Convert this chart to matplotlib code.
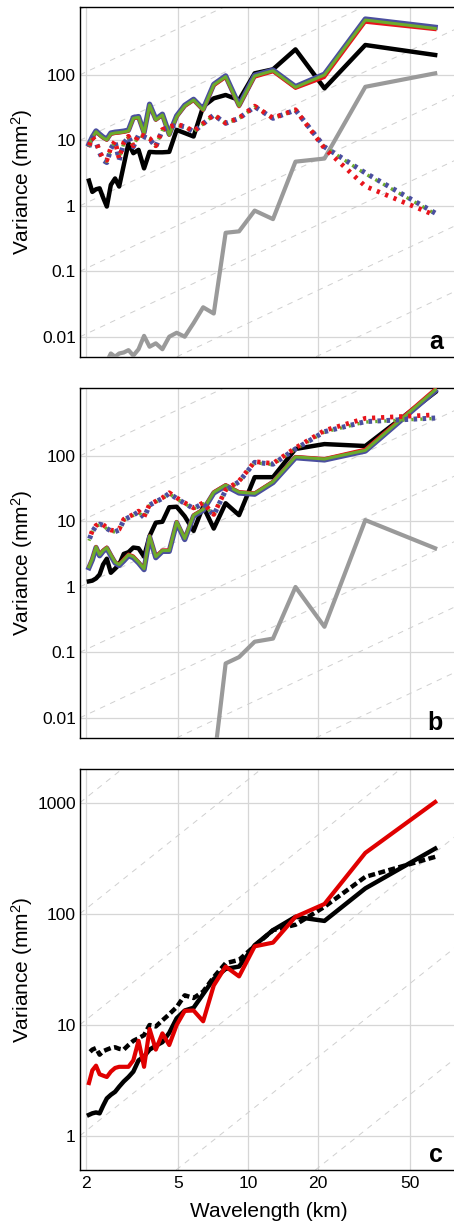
import matplotlib
matplotlib.use('Agg')
import matplotlib.pyplot as plt
from matplotlib.ticker import FixedLocator, FixedFormatter, NullLocator

plt.rcParams['font.family'] = ['Liberation Sans', 'DejaVu Sans']
plt.rcParams['mathtext.fontset'] = 'custom'
plt.rcParams['mathtext.rm'] = 'Liberation Sans'
plt.rcParams['mathtext.default'] = 'regular'
plt.rcParams['lines.scale_dashes'] = False

# wavelength of each spectral band (km), longest first
wavelength = [64.0, 32.0, 21.33, 16.0, 12.8, 10.67, 9.14, 8.0, 7.11, 6.4,
              5.82, 5.33, 4.92, 4.57, 4.27, 4.0, 3.76, 3.56, 3.37, 3.2,
              3.05, 2.91, 2.78, 2.67, 2.56, 2.46, 2.37, 2.29, 2.21, 2.13, 2.06]

# panel a
a_black = [202, 287, 62.6, 246, 122, 106, 41.5, 49.5, 44, 33, 11.5, 13, 14.5, 6.7, 6.6,
           6.6, 6.7, 3.75, 7.2, 6.4, 9.1, 4.2, 1.98, 2.63, 2.1, 0.98, 1.35, 1.86, 1.8, 1.64, 2.44]
a_gray = [106, 66, 5.3, 4.75, 0.63, 0.85, 0.41, 0.39, 0.0228, 0.0284, 0.0163, 0.0101, 0.0116,
          0.0101, 0.0065, 0.0080, 0.0071, 0.0104, 0.0065, 0.0052, 0.0063, 0.0058, 0.0056,
          0.0050, 0.0056, 0.0042, 0.0036, 0.0040, 0.0033, 0.0030, 0.0028]
a_blue = [535, 715, 103, 66.5, 119, 99, 34.5, 97, 72, 30, 42.5, 34.5, 23.8, 12.5, 25.2,
          21.2, 35.8, 13.2, 23.2, 22.4, 14.4, 13.9, 13.6, 13.4, 13.0, 10.5, 11.3, 12.5, 14.0, 11.3, 8.8]
a_red = [490, 635, 91, 62, 111, 92, 32.5, 91, 68, 28.5, 40.5, 32.8, 22.6, 11.9, 24,
         20.2, 34, 12.5, 22.1, 21.3, 13.7, 13.2, 12.9, 12.7, 12.3, 10.0, 10.8, 11.8, 13.3, 10.8, 8.3]
a_green = [513, 690, 100, 64.8, 116, 96.5, 33.6, 94.3, 70.4, 29.2, 41.5, 33.6, 23.1, 12.1, 24.5,
           20.6, 34.8, 12.8, 22.6, 21.8, 14.0, 13.5, 13.2, 13.0, 12.6, 10.2, 11.0, 12.1, 13.6, 11.0, 8.5]
a_dot_blue = [0.78, 3.2, 8.0, 29.2, 21.8, 32.8, 21.8, 18.3, 24.5, 18.0, 13.6, 16.2, 17.2, 16.0, 14.5,
              8.0, 10.5, 11.4, 12.1, 8.0, 11.4, 9.0, 5.0, 9.6, 7.5, 4.6, 5.0, 6.5, 9.5, 11.0, 8.0]
a_dot_green = [0.76, 3.1, 8.0, 29.0, 21.6, 32.5, 21.6, 18.2, 24.3, 17.9, 13.5, 16.1, 17.1, 15.9, 14.4,
               8.1, 10.6, 11.3, 12.0, 8.1, 11.3, 9.1, 5.1, 9.5, 7.6, 4.8, 5.1, 6.6, 9.4, 10.9, 8.0]
a_dot_red = [0.72, 2.0, 7.6, 29.5, 22.0, 33.5, 22.0, 18.5, 24.8, 18.2, 13.8, 16.5, 17.5, 16.2, 14.7,
             8.3, 10.8, 11.8, 12.4, 8.3, 11.6, 9.3, 5.3, 9.8, 7.8, 5.0, 5.3, 6.8, 9.7, 11.2, 8.2]

# panel b
b_black = [940, 142, 152, 128, 47.5, 47.5, 12.5, 19, 7.8, 17.0, 7.2, 12.0, 16.8, 16.5, 9.9,
           9.6, 6.0, 2.9, 3.9, 4.0, 3.4, 3.2, 2.2, 1.9, 1.65, 2.7, 2.2, 1.55, 1.35, 1.25, 1.22]
b_gray = [3.9, 10.5, 0.247, 1.0, 0.163, 0.146, 0.085, 0.068, 0.002, 0.0012, 0.001, 0.0008, 0.0009,
          0.0007, 0.0008, 0.0006, 0.0007, 0.0005, 0.0006, 0.0005, 0.0005, 0.0004, 0.0005, 0.0004,
          0.0004, 0.0003, 0.0004, 0.0003, 0.0003, 0.0003, 0.0003]
b_blue = [985, 119, 87, 94, 39.3, 26.1, 27.2, 35, 27.2, 14.8, 12.1, 5.3, 9.6, 3.5, 3.5,
          2.8, 5.8, 1.84, 2.33, 2.8, 3.0, 2.5, 2.13, 2.33, 3.0, 3.9, 3.5, 3.0, 4.0, 2.6, 1.97]
b_red = [1070, 128, 92, 99, 41.5, 27.5, 28.7, 36.8, 28.7, 15.6, 12.8, 5.6, 10.1, 3.7, 3.7,
         3.0, 6.1, 1.95, 2.45, 3.0, 3.2, 2.7, 2.25, 2.45, 3.2, 4.1, 3.7, 3.2, 4.2, 2.8, 2.08]
b_green = [1020, 122, 90, 97, 40.5, 26.9, 28, 36, 28, 15.3, 12.5, 5.5, 9.9, 3.6, 3.6,
           2.9, 6.0, 1.9, 2.4, 2.9, 3.1, 2.6, 2.2, 2.4, 3.1, 4.0, 3.6, 3.1, 4.1, 2.7, 2.03]
b_dot_blue = [380, 335, 235, 128, 75, 80, 40.5, 30, 12.5, 18.9, 15.8, 18.9, 22.5, 26.9, 22.5,
              20, 17.8, 11.5, 14.1, 12.5, 11.5, 10.5, 7.4, 7.0, 7.2, 7.8, 8.8, 9.1, 8.5, 7.0, 5.2]
b_dot_green = [375, 330, 232, 127, 74, 79, 40, 29.7, 12.4, 18.7, 15.6, 18.7, 22.2, 26.6, 22.2,
               19.8, 17.6, 11.4, 13.9, 12.4, 11.4, 10.4, 7.3, 6.9, 7.1, 7.7, 8.7, 9.0, 8.4, 6.9, 5.1]
b_dot_red = [425, 376, 245, 133, 77, 82, 41.5, 30.5, 12.8, 19.3, 16.1, 19.3, 23, 27.5, 23,
             20.4, 18.2, 11.8, 14.4, 12.8, 11.8, 10.8, 7.6, 7.2, 7.4, 8.0, 9.0, 9.3, 8.7, 7.2, 5.3]

# panel c
c_black = [388, 170, 86.6, 94.3, 71.5, 52.3, 33.6, 32, 26, 19, 14.3, 13.5, 11.5, 8.5, 7.0,
           6.5, 6.0, 5.2, 4.8, 3.8, 3.4, 3.1, 2.78, 2.5, 2.35, 2.18, 1.87, 1.6, 1.63, 1.6, 1.55]
c_dash = [327, 216, 116, 80, 71.5, 51.5, 38.6, 36, 27, 20, 17.5, 18.5, 14.5, 12.5, 11.0,
          9.7, 10.0, 8.1, 7.6, 7.2, 6.6, 6.0, 6.1, 6.3, 6.2, 6.0, 5.8, 5.4, 6.2, 6.0, 5.6]
c_red = [1020, 355, 123, 94.3, 55.2, 51.1, 27.4, 33.6, 22.7, 10.8, 13.5, 13.4, 10.0, 6.6, 8.4,
         6.0, 9.2, 4.2, 7.2, 4.8, 4.2, 4.2, 4.2, 4.1, 3.8, 3.4, 3.5, 3.6, 4.3, 3.9, 3.0]

xticks = [2, 5, 10, 20, 50]
xtick_labels = ['2', '5', '10', '20', '50']
ab_yticks = [0.01, 0.1, 1, 10, 100]
ab_ylabels = ['0.01', '0.1', '1', '10', '100']
c_yticks = [1, 10, 100, 1000]
c_ylabels = ['1', '10', '100', '1000']

BLUE = '#4b4f9f'
RED = '#e8141c'
GREEN = '#6cab2c'
GRAY = '#9a9a9a'

# dotted lines: blue dot, green dash, red dot one after another along the line
DOT_BLUE = (0, (2.6, 3.9))
DOT_GREEN = (3.9, (1.6, 4.9))
DOT_RED = (2.3, (2.3, 4.2))

W, H = 454.0, 1224.0
fig = plt.figure(figsize=(W / 100, H / 100), dpi=100)


def add_panel(top, bottom):
    return fig.add_axes([80 / W, 1 - bottom / H, 380 / W, (bottom - top) / H])


XMIN = 1.885
XMAX = XMIN * 10 ** (380 / 232.0)


def style(ax, ylim, yticks, ylabels, letter, show_x):
    ax.set_xscale('log')
    ax.set_yscale('log')
    ax.set_xlim(XMIN, XMAX)
    ax.set_ylim(*ylim)
    ax.xaxis.set_major_locator(FixedLocator(xticks))
    ax.xaxis.set_minor_locator(NullLocator())
    ax.yaxis.set_major_locator(FixedLocator(yticks))
    ax.yaxis.set_minor_locator(NullLocator())
    ax.yaxis.set_major_formatter(FixedFormatter(ylabels))
    if show_x:
        ax.xaxis.set_major_formatter(FixedFormatter(xtick_labels))
    else:
        ax.xaxis.set_major_formatter(FixedFormatter([''] * len(xticks)))
    ax.tick_params(length=0, labelsize=12.6, pad=3)
    ax.tick_params(axis='x', pad=4)
    ax.grid(True, color='#d6d6d6', lw=0.9)
    ax.set_axisbelow(True)
    for s in ax.spines.values():
        s.set_linewidth(1.0)
    # power-law guide lines (slope 5/3)
    for n in range(-6, 8):
        c0 = 0.0035 * 10 ** n
        ax.axline((1, c0), (10, c0 * 10 ** (5 / 3)), color='#cfcfcf', lw=0.7,
                  ls=(0, (4, 4)), zorder=1)
    ax.text(0.955, 0.021, letter, transform=ax.transAxes, ha='right', va='baseline',
            fontsize=18, fontweight='bold')


ax_a = add_panel(7.3, 356.7)
ax_b = add_panel(388.3, 737.7)
ax_c = add_panel(769.3, 1170.0)

# panel a
ax_a.plot(wavelength, a_gray, color=GRAY, lw=3.0, zorder=3)
ax_a.plot(wavelength, a_black, color='black', lw=3.2, zorder=3)
ax_a.plot(wavelength, a_blue, color=BLUE, lw=3.8, zorder=4)
ax_a.plot(wavelength, a_red, color=RED, lw=2.0, zorder=4)
ax_a.plot(wavelength, a_green, color=GREEN, lw=2.2, zorder=4)
ax_a.plot(wavelength, a_dot_blue, color=BLUE, lw=3.6, ls=DOT_BLUE, zorder=5)
ax_a.plot(wavelength, a_dot_green, color=GREEN, lw=2.4, ls=DOT_GREEN, zorder=5)
ax_a.plot(wavelength, a_dot_red, color=RED, lw=3.4, ls=DOT_RED, zorder=5)
style(ax_a, (0.005, 1080), ab_yticks, ab_ylabels, 'a', False)

# panel b
ax_b.plot(wavelength, b_gray, color=GRAY, lw=3.0, zorder=3)
ax_b.plot(wavelength, b_black, color='black', lw=3.2, zorder=3)
ax_b.plot(wavelength, b_blue, color=BLUE, lw=3.8, zorder=4)
ax_b.plot(wavelength, b_red, color=RED, lw=2.0, zorder=4)
ax_b.plot(wavelength, b_green, color=GREEN, lw=2.2, zorder=4)
ax_b.plot(wavelength, b_dot_blue, color=BLUE, lw=3.6, ls=DOT_BLUE, zorder=5)
ax_b.plot(wavelength, b_dot_green, color=GREEN, lw=2.4, ls=DOT_GREEN, zorder=5)
ax_b.plot(wavelength, b_dot_red, color=RED, lw=3.4, ls=DOT_RED, zorder=5)
style(ax_b, (0.005, 1080), ab_yticks, ab_ylabels, 'b', False)

# panel c
ax_c.plot(wavelength, c_black, color='black', lw=3.2, zorder=3)
ax_c.plot(wavelength, c_dash, color='black', lw=3.2, ls=(0, (5, 2.5)), zorder=3)
ax_c.plot(wavelength, c_red, color='#e00000', lw=3.0, zorder=4)
style(ax_c, (0.494, 2010), c_yticks, c_ylabels, 'c', True)

for yc in (182.0, 563.0, 970.0):
    fig.text(21.7 / W, 1 - yc / H, 'Variance (mm$^{2}$)', rotation=90, ha='center',
             va='center', fontsize=15)
fig.text(269 / W, 1 - 1211.7 / H, 'Wavelength (km)', ha='center', va='center', fontsize=15)

fig.savefig('out.png', dpi=100)
